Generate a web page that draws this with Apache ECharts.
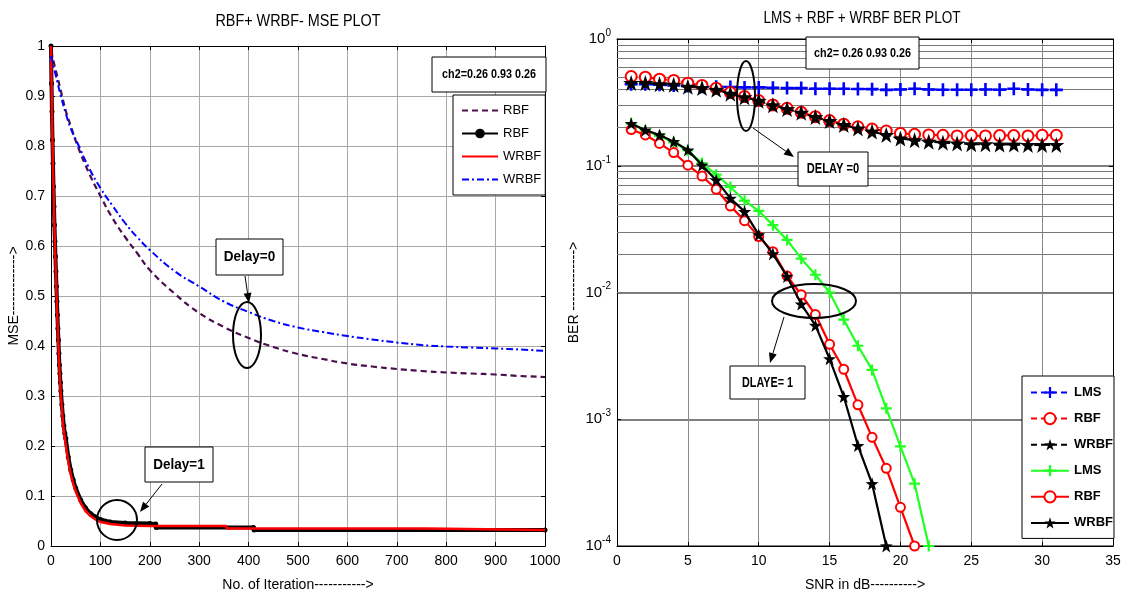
<!DOCTYPE html>
<html><head><meta charset="utf-8">
<script src="https://cdn.jsdelivr.net/npm/echarts@6/dist/echarts.min.js"></script>
<style>html,body{margin:0;padding:0;background:#fff}#c{width:1132px;height:599px}</style>
</head><body><div id="c"></div>
<script>
// ---------- Left chart: MSE vs iteration ----------
const rbf0Iter  = [0,10,20,30,40,54,75,100,125,150,175,200,250,300,350,400,450,500,550,600,650,700,750,800,850,900,950,1000];
const rbf0Mse   = [0.99,0.95,0.91,0.87,0.84,0.80,0.75,0.70,0.655,0.618,0.585,0.552,0.505,0.466,0.438,0.416,0.398,0.384,0.374,0.365,0.359,0.354,0.350,0.347,0.345,0.343,0.340,0.338];
const wrbf0Iter = [0,10,20,30,40,54,75,100,125,150,175,200,250,300,350,400,450,500,550,600,650,700,750,800,850,900,950,1000];
const wrbf0Mse  = [0.98,0.94,0.90,0.865,0.835,0.805,0.76,0.716,0.68,0.646,0.617,0.592,0.55,0.519,0.489,0.468,0.45,0.437,0.428,0.42,0.413,0.407,0.402,0.399,0.397,0.395,0.393,0.39];
const rbf1Iter  = [0,1,2,3,4,5,6,7,8,9,10,11,12,13,14,15,16,17,18,19,20,22,24,26,28,30,35,40,45,50,60,70,80,90,100,120,150,200,212,213,410,411,1000];
const rbf1Mse   = [1.0,0.925,0.869,0.812,0.765,0.719,0.679,0.642,0.609,0.579,0.549,0.519,0.489,0.462,0.435,0.412,0.385,0.362,0.345,0.327,0.31,0.283,0.26,0.24,0.225,0.215,0.178,0.152,0.132,0.116,0.092,0.076,0.065,0.058,0.053,0.048,0.046,0.045,0.044,0.037,0.037,0.032,0.032];
const wrbf1Iter = [0,2,4,6,8,10,12,14,16,18,20,25,30,35,40,45,50,60,70,80,90,100,120,150,200,355,356,760,761,1000];
const wrbf1Mse  = [1.0,0.865,0.76,0.673,0.602,0.54,0.48,0.426,0.376,0.334,0.3,0.238,0.2,0.168,0.143,0.124,0.109,0.086,0.07,0.06,0.053,0.048,0.044,0.041,0.04,0.04,0.035,0.035,0.032,0.032];

// ---------- Right chart: BER vs SNR ----------
const snrDelay0 = [1,2,3,4,5,6,7,8,9,10,11,12,13,14,15,16,17,18,19,20,21,22,23,24,25,26,27,28,29,30,31];
const lms0Ber   = [0.44,0.44,0.435,0.43,0.425,0.42,0.42,0.418,0.415,0.415,0.413,0.41,0.41,0.405,0.405,0.405,0.403,0.402,0.397,0.4,0.405,0.4,0.398,0.398,0.398,0.4,0.398,0.405,0.4,0.397,0.397];
const rbf0Ber   = [0.506,0.5,0.482,0.471,0.448,0.43,0.409,0.378,0.352,0.327,0.302,0.284,0.264,0.244,0.227,0.213,0.203,0.195,0.188,0.18,0.177,0.175,0.174,0.172,0.173,0.172,0.173,0.173,0.172,0.174,0.174];
const wrbf0Ber  = [0.45,0.45,0.44,0.435,0.42,0.41,0.397,0.37,0.347,0.325,0.3,0.28,0.262,0.242,0.225,0.21,0.197,0.186,0.175,0.164,0.159,0.155,0.152,0.15,0.148,0.148,0.147,0.147,0.146,0.146,0.146];
const snrLms1   = [1,2,3,4,5,6,7,8,9,10,11,12,13,14,15,16,17,18,19,20,21,22];
const lms1Ber   = [0.215,0.19,0.172,0.153,0.132,0.105,0.085,0.068,0.053,0.044,0.034,0.026,0.0185,0.0138,0.01,0.0061,0.0038,0.00245,0.00122,0.00061,0.00031,0.0001];
const snrRbf1   = [1,2,3,4,5,6,7,8,9,10,11,12,13,14,15,16,17,18,19,20,21];
const rbf1Ber   = [0.193,0.175,0.15,0.127,0.101,0.083,0.0652,0.0481,0.0369,0.0276,0.021,0.0135,0.0096,0.0067,0.0039,0.00248,0.0013,0.00072,0.00041,0.000202,0.0001];
const snrWrbf1  = [1,2,3,4,5,6,7,8,9,10,11,12,13,14,15,16,17,18,19];
const wrbf1Ber  = [0.215,0.191,0.175,0.155,0.133,0.101,0.077,0.0553,0.0435,0.0285,0.0202,0.0134,0.0081,0.0055,0.003,0.00151,0.00062,0.00031,0.0001];
const berMinorGrid = [2e-4,3e-4,4e-4,5e-4,6e-4,7e-4,8e-4,9e-4,2e-3,3e-3,4e-3,5e-3,6e-3,7e-3,8e-3,9e-3,2e-2,3e-2,4e-2,5e-2,6e-2,7e-2,8e-2,9e-2,0.2,0.3,0.4,0.5,0.6,0.7,0.8,0.9];

const zip = (xs, ys) => xs.map((x, i) => [x, ys[i]]);
const FONT = "'Liberation Sans',Arial,sans-serif";
const PLUS = 'path://M4,0H6V4H10V6H6V10H4V6H0V4H4Z';
const STAR = 'path://M50,0L61.76,33.82L97.55,34.55L69.02,56.18L79.39,90.45L50,70L20.61,90.45L30.98,56.18L2.45,34.55L38.24,33.82Z';
const ZW = '\u200B';
const clean = n => n.replace(/\u200B/g, '');

const chart = echarts.init(document.getElementById('c'), null, {renderer: 'canvas'});

const tickFont = {color: '#000', fontFamily: FONT, fontSize: 14};
const nameFont = {color: '#000', fontFamily: FONT, fontSize: 14};
function frameAxis(extra) {
  return Object.assign({
    axisLine: {show: true, onZero: false, lineStyle: {color: '#000', width: 1}},
    axisTick: {show: true, inside: true, length: 4, lineStyle: {color: '#000'}},
    axisLabel: {show: false},
    splitLine: {show: false}
  }, extra);
}

function arrow(x1, y1, x2, y2) {
  const a = Math.atan2(y2 - y1, x2 - x1), L = 10, W = 4;
  const bx = x2 - L * Math.cos(a), by = y2 - L * Math.sin(a);
  const px = -Math.sin(a) * W, py = Math.cos(a) * W;
  return [
    {type: 'line', shape: {x1, y1, x2: bx, y2: by}, style: {stroke: '#000', lineWidth: 1}, z: 100},
    {type: 'polygon', shape: {points: [[x2, y2], [bx + px, by + py], [bx - px, by - py]]}, style: {fill: '#000'}, z: 100}
  ];
}
function label(x, y, text, size, sx, bold) {
  return {type: 'text', x, y, scaleX: sx, z: 101,
    style: {text, fill: '#000', font: (bold ? 'bold ' : '') + size + 'px ' + FONT, align: 'center', verticalAlign: 'middle'}};
}
function box(x, y, w, h, text, size, sx) {
  return [
    {type: 'rect', shape: {x, y, width: w, height: h}, style: {fill: '#fff', stroke: '#000', lineWidth: 1}, z: 100},
    label(x + w / 2, y + h / 2, text, size, sx, true)
  ];
}
function ell(cx, cy, rx, ry) {
  return {type: 'ellipse', shape: {cx, cy, rx, ry}, style: {fill: 'none', stroke: '#000', lineWidth: 2}, z: 100};
}
const noSym = name => ({name, itemStyle: {opacity: 0}});

const option = {
  animation: false,
  backgroundColor: '#fff',
  grid: [
    {left: 51, top: 46, width: 494, height: 500},
    {left: 617, top: 39, width: 496, height: 507}
  ],
  legend: [
    {
      data: [noSym('RBF'), 'RBF' + ZW, noSym('WRBF'), noSym('WRBF' + ZW)],
      orient: 'vertical', left: 453, top: 95, itemWidth: 36, itemHeight: 12, itemGap: 10,
      padding: [9, 4, 9, 8], borderColor: '#000', borderWidth: 1, backgroundColor: '#fff',
      textStyle: {fontFamily: FONT, fontSize: 13, color: '#000'},
      formatter: clean, selectedMode: false
    },
    {
      data: ['LMS', 'RBF' + ZW + ZW, 'WRBF' + ZW + ZW, 'LMS' + ZW, 'RBF' + ZW + ZW + ZW, 'WRBF' + ZW + ZW + ZW],
      orient: 'vertical', left: 1022, top: 376, itemWidth: 38, itemHeight: 14, itemGap: 13,
      padding: [10, 1, 9, 8], borderColor: '#000', borderWidth: 1, backgroundColor: '#fff',
      textStyle: {fontFamily: FONT, fontSize: 13, fontWeight: 'bold', color: '#000'},
      formatter: clean, selectedMode: false
    }
  ],
  xAxis: [
    {gridIndex: 0, type: 'value', min: 0, max: 1000, interval: 100,
     axisLine: {show: true, onZero: false, lineStyle: {color: '#000'}},
     axisTick: {show: true, inside: true, length: 4, lineStyle: {color: '#000'}},
     axisLabel: Object.assign({margin: 8, formatter: v => String(v)}, tickFont),
     splitLine: {show: true, lineStyle: {color: '#a8a8a8', width: 1}},
     name: 'No. of Iteration----------->', nameLocation: 'middle', nameGap: 32, nameTextStyle: nameFont},
    frameAxis({gridIndex: 0, type: 'value', position: 'top', min: 0, max: 1000, interval: 100}),
    {gridIndex: 1, type: 'value', min: 0, max: 35, interval: 5,
     axisLine: {show: true, onZero: false, lineStyle: {color: '#000'}},
     axisTick: {show: true, inside: true, length: 4, lineStyle: {color: '#000'}},
     axisLabel: Object.assign({margin: 8}, tickFont),
     splitLine: {show: true, lineStyle: {color: '#8a8a8a', width: 1}},
     name: 'SNR in dB---------->', nameLocation: 'middle', nameGap: 32, nameTextStyle: nameFont},
    frameAxis({gridIndex: 1, type: 'value', position: 'top', min: 0, max: 35, interval: 5})
  ],
  yAxis: [
    {gridIndex: 0, type: 'value', min: 0, max: 1, interval: 0.1,
     axisLine: {show: true, onZero: false, lineStyle: {color: '#000'}},
     axisTick: {show: true, inside: true, length: 4, lineStyle: {color: '#000'}},
     axisLabel: Object.assign({margin: 6, formatter: v => String(+v.toFixed(1))}, tickFont),
     splitLine: {show: true, lineStyle: {color: '#a8a8a8', width: 1}},
     name: 'MSE------------->', nameLocation: 'middle', nameGap: 28, nameRotate: 90, nameTextStyle: nameFont},
    frameAxis({gridIndex: 0, type: 'value', position: 'right', min: 0, max: 1, interval: 0.1}),
    {gridIndex: 1, type: 'log', logBase: 10, min: 1e-4, max: 1,
     axisLine: {show: true, onZero: false, lineStyle: {color: '#000'}},
     axisTick: {show: true, inside: true, length: 4, lineStyle: {color: '#000'}},
     axisLabel: {margin: 6, color: '#000',
       formatter: v => '{b|10}{s|' + Math.round(Math.log10(v)) + '}',
       rich: {b: {fontFamily: FONT, fontSize: 15, color: '#000'},
              s: {fontFamily: FONT, fontSize: 10, color: '#000', padding: [0, 0, 12, 0]}}},
     splitLine: {show: true, lineStyle: {color: '#555', width: 1.5}},
     name: 'BER ------------->', nameLocation: 'middle', nameGap: 30, nameRotate: 90, nameTextStyle: nameFont},
    frameAxis({gridIndex: 1, type: 'log', logBase: 10, position: 'right', min: 1e-4, max: 1})
  ],
  series: [
    {name: 'RBF', type: 'line', xAxisIndex: 0, yAxisIndex: 0, data: zip(rbf0Iter, rbf0Mse),
     showSymbol: false, symbol: 'none', smooth: true, color: '#4a0e4e',
     lineStyle: {color: '#4a0e4e', width: 2.2, type: [6, 4]}, z: 3},
    {name: 'RBF' + ZW, type: 'line', xAxisIndex: 0, yAxisIndex: 0, data: zip(rbf1Iter, rbf1Mse),
     symbol: 'circle', symbolSize: 5, color: '#000',
     itemStyle: {color: '#000'}, lineStyle: {color: '#000', width: 4}, z: 4},
    {name: 'WRBF', type: 'line', xAxisIndex: 0, yAxisIndex: 0, data: zip(wrbf1Iter, wrbf1Mse),
     symbol: 'none', color: '#ff0000', lineStyle: {color: '#ff0000', width: 2.5}, z: 5},
    {name: 'WRBF' + ZW, type: 'line', xAxisIndex: 0, yAxisIndex: 0, data: zip(wrbf0Iter, wrbf0Mse),
     symbol: 'none', smooth: true, color: '#0000ff',
     lineStyle: {color: '#0000ff', width: 2, type: [7, 3, 2, 3]}, z: 6},

    {name: 'LMS', type: 'line', xAxisIndex: 2, yAxisIndex: 2, data: zip(snrDelay0, lms0Ber),
     symbol: PLUS, symbolSize: 13, color: '#0000ff', itemStyle: {color: '#0000ff'},
     lineStyle: {color: '#0000ff', width: 2, type: [6, 4]}, z: 4,
     markLine: {silent: true, symbol: ['none', 'none'], label: {show: false}, z: 1, animation: false,
       lineStyle: {color: '#777', width: 1, type: 'solid'},
       data: berMinorGrid.map(v => ({yAxis: v}))}},
    {name: 'RBF' + ZW + ZW, type: 'line', xAxisIndex: 2, yAxisIndex: 2, data: zip(snrDelay0, rbf0Ber),
     symbol: 'emptyCircle', symbolSize: 11, color: '#ff0000', itemStyle: {color: '#ff0000', borderWidth: 2.2},
     lineStyle: {color: '#ff0000', width: 2, type: [6, 4]}, z: 5},
    {name: 'WRBF' + ZW + ZW, type: 'line', xAxisIndex: 2, yAxisIndex: 2, data: zip(snrDelay0, wrbf0Ber),
     symbol: STAR, symbolSize: 16, color: '#000', itemStyle: {color: '#000'},
     lineStyle: {color: '#000', width: 2, type: [6, 4]}, z: 6},
    {name: 'LMS' + ZW, type: 'line', xAxisIndex: 2, yAxisIndex: 2, data: zip(snrLms1, lms1Ber),
     symbol: PLUS, symbolSize: 11, color: '#22ff22', itemStyle: {color: '#22ff22'},
     lineStyle: {color: '#22ff22', width: 2.2}, z: 4},
    {name: 'RBF' + ZW + ZW + ZW, type: 'line', xAxisIndex: 2, yAxisIndex: 2, data: zip(snrRbf1, rbf1Ber),
     symbol: 'emptyCircle', symbolSize: 9, color: '#ff0000', itemStyle: {color: '#ff0000', borderWidth: 2},
     lineStyle: {color: '#ff0000', width: 2.2}, z: 5},
    {name: 'WRBF' + ZW + ZW + ZW, type: 'line', xAxisIndex: 2, yAxisIndex: 2, data: zip(snrWrbf1, wrbf1Ber),
     symbol: STAR, symbolSize: 13, color: '#000', itemStyle: {color: '#000'},
     lineStyle: {color: '#000', width: 2.2}, z: 6}
  ],
  graphic: [].concat(
    [label(298, 22, 'RBF+ WRBF- MSE PLOT', 16, 0.9, false),
     label(862, 19, 'LMS + RBF + WRBF BER PLOT', 16, 0.85, false)],
    box(432, 57, 114, 35, 'ch2=0.26 0.93 0.26', 13, 0.83),
    box(216, 239, 67, 36, 'Delay=0', 15, 0.9),
    [ell(247, 335, 14, 33)],
    arrow(245, 276, 249, 303),
    box(145, 447, 68, 35, 'Delay=1', 15, 0.9),
    [ell(117, 520, 20, 20)],
    arrow(162, 484, 140, 512),
    box(806, 37, 113, 32, 'ch2= 0.26 0.93 0.26', 13, 0.83),
    [ell(746, 96, 9, 35)],
    arrow(753, 128, 794, 157),
    box(798, 152, 70, 34, 'DELAY =0', 15, 0.74),
    [ell(814, 301, 42, 17)],
    arrow(784, 317, 770, 363),
    box(730, 366, 75, 33, 'DLAYE= 1', 15, 0.72)
  )
};
chart.setOption(option);
</script>
</body></html>
